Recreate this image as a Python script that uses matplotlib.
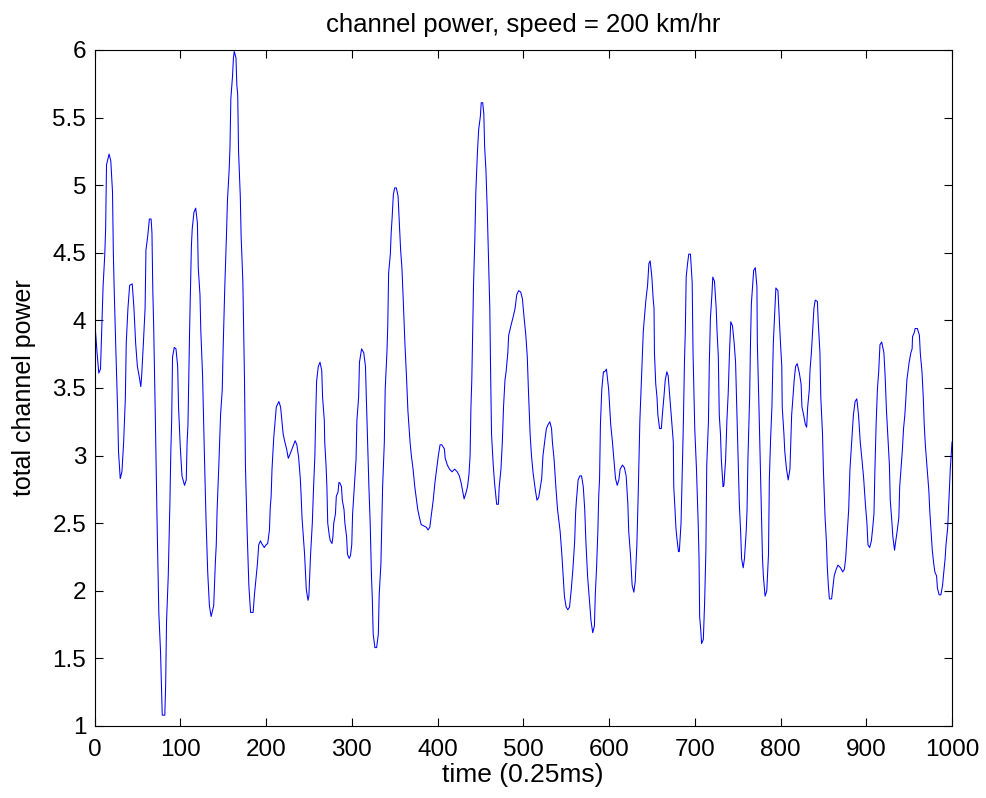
import matplotlib
matplotlib.use("Agg")
import matplotlib.pyplot as plt

# time samples (0.25ms units) and total channel power
t = [0, 3, 5, 7, 10, 12, 13, 14, 17, 19, 21, 22, 23, 25, 27, 28, 30, 32, 34, 36,
     37, 39, 41, 44, 46, 48, 50, 52, 54, 55, 57, 59, 60, 62, 64, 66, 67, 68, 69, 71,
     73, 75, 77, 78, 79, 82, 83, 84, 86, 88, 89, 90, 91, 93, 95, 97, 98, 100, 102, 105,
     107, 108, 109, 110, 111, 113, 114, 116, 118, 120, 121, 123, 124, 126, 128, 130, 132, 134, 136, 139,
     141, 142, 143, 145, 147, 149, 150, 152, 154, 155, 157, 158, 159, 161, 162, 163, 165, 166, 167, 168,
     170, 171, 173, 174, 175, 176, 178, 180, 182, 185, 186.5, 188, 190, 191.5, 193.5, 195, 198, 200, 202, 204,
     205, 206, 207, 209, 210, 211, 212, 215, 217, 218.5, 220, 222, 224, 226, 228, 231, 234, 236, 238, 240,
     241, 242, 245, 247, 249, 250, 252, 254, 255.5, 257, 258, 259, 261, 263, 265, 266, 268, 268.5, 270, 271,
     272, 274, 275, 277, 278, 279, 281, 282, 284, 285, 286, 288, 289, 291, 292, 294, 295, 297, 298.5, 300,
     301, 303, 305, 306, 308, 309, 311.5, 314, 316, 317, 319, 320, 321.5, 323, 324, 325, 327, 329, 331, 332,
     334, 335, 336, 338, 339, 341, 342, 343, 345, 346, 347, 348.5, 350, 352, 354, 355.5, 357, 358.5, 360, 362,
     364, 365.5, 367, 368, 369.5, 371.5, 373.5, 375.5, 377, 379, 381, 387, 389, 391, 393, 395, 397, 399, 401, 403,
     405, 408, 409, 411.5, 414, 417, 420, 423, 425.5, 427.5, 429.5, 431, 433, 435, 436.7, 438, 439, 440, 441, 442,
     443.5, 444.7, 446.6, 448, 450, 451, 452.7, 454, 455, 456.5, 458, 459.6, 461, 462, 463, 465, 466.5, 469, 471, 472,
     474, 475.6, 477, 478.7, 480, 482, 483, 485.6, 488, 490.5, 492.4, 494.7, 497, 499, 501, 503, 504.7, 506, 508, 509.6,
     511.5, 514, 516, 518, 520, 521.5, 523, 525.5, 527, 529, 531, 533, 534, 536, 538, 540, 543, 545, 547, 548,
     550, 552, 554, 556, 558, 560, 561, 562, 564, 566, 568, 570, 571.7, 573, 575, 577, 579, 581, 583, 584,
     585.5, 587, 588, 589, 590, 591.6, 593.5, 595, 597, 599.6, 602, 604, 606, 607.6, 609.6, 611.5, 613, 615.7, 618, 620,
     622, 623, 625, 627, 629, 630.6, 632.5, 634, 636, 638, 640, 643, 645, 646.5, 648, 650, 651.5, 652.5, 653, 654.5,
     656, 657, 659, 661, 662.6, 664, 665.6, 667.5, 669, 671, 673, 675, 675.5, 677, 678, 679, 681, 682, 684, 685,
     686.6, 688, 689, 690, 691.6, 693, 695, 697, 698, 700, 702, 704, 705, 705.7, 707, 708, 710, 711.5, 713, 714,
     716, 717, 718.3, 720, 721, 723, 725, 726, 727.5, 728.6, 730, 731, 733, 734, 736, 737.5, 739, 740.5, 742, 744,
     746, 747.6, 749, 751, 752, 753.5, 754.6, 756.5, 758, 760, 761, 762, 764, 765, 766, 768.7, 770.6, 772.5, 773, 775,
     777, 779, 780, 782, 784, 786, 787, 788.5, 790, 791.6, 793, 794.6, 797, 798.5, 800, 801.5, 802, 804, 805, 807,
     809, 811, 812, 813, 814.5, 816, 817.6, 819.5, 822, 824, 825, 827, 829, 830.5, 831.7, 833.6, 834.4, 836, 837.4, 839,
     840.5, 843, 844, 846, 847, 849, 850, 852, 853.5, 854.6, 855.8, 857, 859.6, 861, 862.6, 865, 867, 870, 872.6, 874.5,
     876, 878, 879.5, 881, 883, 885, 887, 889, 891, 893, 895, 897, 899, 900.8, 902, 904, 906, 907.6, 909, 910,
     911.5, 913, 914.5, 916, 918, 920.6, 922, 923.6, 925, 927, 928, 930, 931, 933, 934, 936, 938, 939, 940.5, 942,
     943.5, 945, 946, 947.4, 949, 950, 952, 953.5, 954, 956, 957, 959.6, 962, 963, 965, 966.5, 967.6, 969, 971, 973,
     974, 975, 977, 978.7, 980, 982, 983, 985, 987, 989, 990, 992, 993, 995, 996.6, 998, 1000]

power = [4.02, 3.76, 3.61, 3.64, 4.25, 4.49, 4.68, 5.15, 5.23, 5.18, 4.95, 4.49, 4.22, 3.76, 3.33, 3.03, 2.83, 2.88, 3.10, 3.43,
         3.83, 4.09, 4.26, 4.27, 4.09, 3.83, 3.66, 3.59, 3.51, 3.59, 3.83, 4.09, 4.52, 4.62, 4.75, 4.75, 4.65, 4.22, 3.96, 3.26,
         2.50, 1.84, 1.55, 1.31, 1.08, 1.08, 1.31, 1.77, 2.11, 2.67, 3.03, 3.26, 3.73, 3.80, 3.79, 3.66, 3.36, 3.07, 2.85, 2.78,
         2.82, 3.10, 3.23, 3.62, 3.96, 4.55, 4.68, 4.80, 4.83, 4.72, 4.39, 4.19, 3.92, 3.60, 3.05, 2.54, 2.14, 1.89, 1.81, 1.89,
         2.22, 2.34, 2.60, 2.93, 3.30, 3.49, 3.79, 4.26, 4.65, 4.88, 5.11, 5.28, 5.64, 5.81, 5.94, 5.99, 5.94, 5.74, 5.67, 5.25,
         4.92, 4.62, 4.29, 3.89, 3.53, 2.93, 2.44, 2.04, 1.84, 1.84, 1.97, 2.07, 2.20, 2.34, 2.37, 2.35, 2.32, 2.34, 2.35, 2.45,
         2.62, 2.70, 2.90, 3.13, 3.21, 3.30, 3.36, 3.40, 3.36, 3.26, 3.16, 3.10, 3.05, 2.98, 3.01, 3.06, 3.11, 3.08, 2.99, 2.83,
         2.70, 2.54, 2.27, 2.01, 1.93, 1.96, 2.27, 2.50, 2.77, 3.00, 3.30, 3.55, 3.66, 3.69, 3.63, 3.43, 3.26, 3.10, 2.93, 2.77,
         2.50, 2.40, 2.37, 2.35, 2.40, 2.50, 2.57, 2.70, 2.73, 2.80, 2.80, 2.77, 2.67, 2.60, 2.50, 2.40, 2.27, 2.24, 2.26, 2.34,
         2.57, 2.77, 2.97, 3.26, 3.43, 3.69, 3.79, 3.76, 3.66, 3.43, 3.00, 2.77, 2.50, 2.11, 1.94, 1.68, 1.58, 1.58, 1.68, 1.97,
         2.20, 2.50, 2.77, 3.10, 3.49, 3.76, 3.96, 4.35, 4.49, 4.65, 4.75, 4.93, 4.98, 4.98, 4.92, 4.72, 4.52, 4.39, 4.16, 3.83,
         3.56, 3.33, 3.19, 3.10, 3.00, 2.90, 2.77, 2.67, 2.60, 2.54, 2.49, 2.47, 2.45, 2.47, 2.57, 2.67, 2.80, 2.90, 3.00, 3.08,
         3.08, 3.05, 2.98, 2.93, 2.90, 2.88, 2.90, 2.88, 2.85, 2.80, 2.73, 2.68, 2.72, 2.77, 2.86, 3.00, 3.36, 3.56, 3.89, 4.26,
         4.59, 4.95, 5.25, 5.41, 5.51, 5.61, 5.61, 5.53, 5.28, 5.11, 4.82, 4.42, 4.09, 3.59, 3.16, 2.93, 2.80, 2.64, 2.64, 2.77,
         2.90, 3.10, 3.36, 3.56, 3.62, 3.76, 3.89, 3.96, 4.02, 4.09, 4.19, 4.22, 4.21, 4.16, 4.02, 3.89, 3.73, 3.49, 3.16, 3.00,
         2.87, 2.75, 2.67, 2.69, 2.77, 2.83, 3.00, 3.13, 3.20, 3.23, 3.25, 3.20, 3.10, 2.97, 2.77, 2.60, 2.44, 2.27, 2.07, 1.96,
         1.88, 1.86, 1.88, 2.01, 2.17, 2.37, 2.57, 2.67, 2.82, 2.85, 2.85, 2.77, 2.60, 2.37, 2.11, 1.94, 1.78, 1.69, 1.74, 1.97,
         2.17, 2.44, 2.70, 2.83, 3.23, 3.49, 3.62, 3.62, 3.64, 3.49, 3.23, 3.10, 2.95, 2.83, 2.78, 2.82, 2.90, 2.93, 2.91, 2.85,
         2.64, 2.44, 2.27, 2.04, 1.99, 2.07, 2.34, 2.70, 3.26, 3.59, 3.92, 4.15, 4.26, 4.42, 4.44, 4.32, 4.16, 4.09, 3.76, 3.53,
         3.43, 3.30, 3.20, 3.20, 3.33, 3.43, 3.56, 3.62, 3.59, 3.43, 3.26, 3.10, 2.77, 2.60, 2.47, 2.40, 2.29, 2.29, 2.50, 2.77,
         3.20, 3.69, 3.92, 4.32, 4.42, 4.49, 4.49, 4.28, 3.76, 3.20, 2.90, 2.50, 2.24, 1.81, 1.71, 1.61, 1.64, 1.91, 2.30, 2.93,
         3.26, 3.69, 4.02, 4.19, 4.32, 4.29, 4.09, 3.92, 3.73, 3.30, 3.16, 2.97, 2.77, 2.78, 2.97, 3.26, 3.46, 3.76, 3.99, 3.96,
         3.83, 3.69, 3.36, 2.90, 2.64, 2.44, 2.24, 2.17, 2.24, 2.44, 2.60, 2.97, 3.43, 3.83, 4.12, 4.37, 4.39, 4.25, 3.83, 3.33,
         2.77, 2.24, 2.11, 1.96, 2.00, 2.27, 2.83, 3.13, 3.36, 3.83, 4.02, 4.24, 4.22, 4.02, 3.83, 3.66, 3.36, 3.16, 3.03, 2.90,
         2.82, 2.90, 3.10, 3.30, 3.43, 3.56, 3.66, 3.68, 3.61, 3.53, 3.36, 3.30, 3.23, 3.21, 3.36, 3.49, 3.63, 3.76, 3.92, 4.09,
         4.15, 4.14, 3.99, 3.76, 3.43, 3.16, 2.90, 2.54, 2.37, 2.17, 2.04, 1.94, 1.94, 2.02, 2.11, 2.16, 2.19, 2.17, 2.14, 2.16,
         2.24, 2.44, 2.60, 2.90, 3.10, 3.30, 3.40, 3.42, 3.30, 3.10, 2.97, 2.83, 2.64, 2.50, 2.34, 2.32, 2.37, 2.47, 2.57, 2.87,
         3.23, 3.49, 3.62, 3.82, 3.84, 3.76, 3.59, 3.33, 3.16, 2.93, 2.67, 2.50, 2.40, 2.30, 2.35, 2.44, 2.54, 2.77, 2.90, 3.03,
         3.20, 3.30, 3.40, 3.56, 3.64, 3.69, 3.76, 3.79, 3.88, 3.91, 3.94, 3.94, 3.89, 3.76, 3.62, 3.43, 3.23, 3.07, 2.90, 2.74,
         2.60, 2.50, 2.30, 2.20, 2.14, 2.11, 2.02, 1.97, 1.97, 2.04, 2.11, 2.24, 2.34, 2.47, 2.70, 2.90, 3.10]

fig = plt.figure(figsize=(9.86, 7.98), dpi=100)
plt.rcParams['font.family'] = ['Liberation Sans', 'DejaVu Sans']
ax = fig.add_axes([94.5 / 986, 1 - 726 / 798, 857.5 / 986, 676 / 798])

ax.plot(t, power, color=(0, 0, 1), linewidth=0.75)

ax.set_xlim(0, 1000)
ax.set_ylim(1, 6)
ax.set_xticks(range(0, 1001, 100))
ax.set_yticks([1, 1.5, 2, 2.5, 3, 3.5, 4, 4.5, 5, 5.5, 6])
ax.set_yticklabels(['1', '1.5', '2', '2.5', '3', '3.5', '4', '4.5', '5', '5.5', '6'])
ax.tick_params(direction='in', top=True, right=True, length=6, width=0.8,
               labelsize=17.5)
ax.tick_params(axis='x', pad=9)
ax.tick_params(axis='y', pad=6)
for s in ax.spines.values():
    s.set_linewidth(0.8)

ax.set_title('channel power, speed = 200 km/hr', fontsize=18.5, pad=13)
ax.set_xlabel('time (0.25ms)', fontsize=19, labelpad=2)
ax.set_ylabel('total channel power', fontsize=18, labelpad=12)

fig.savefig('out.png', dpi=100)
